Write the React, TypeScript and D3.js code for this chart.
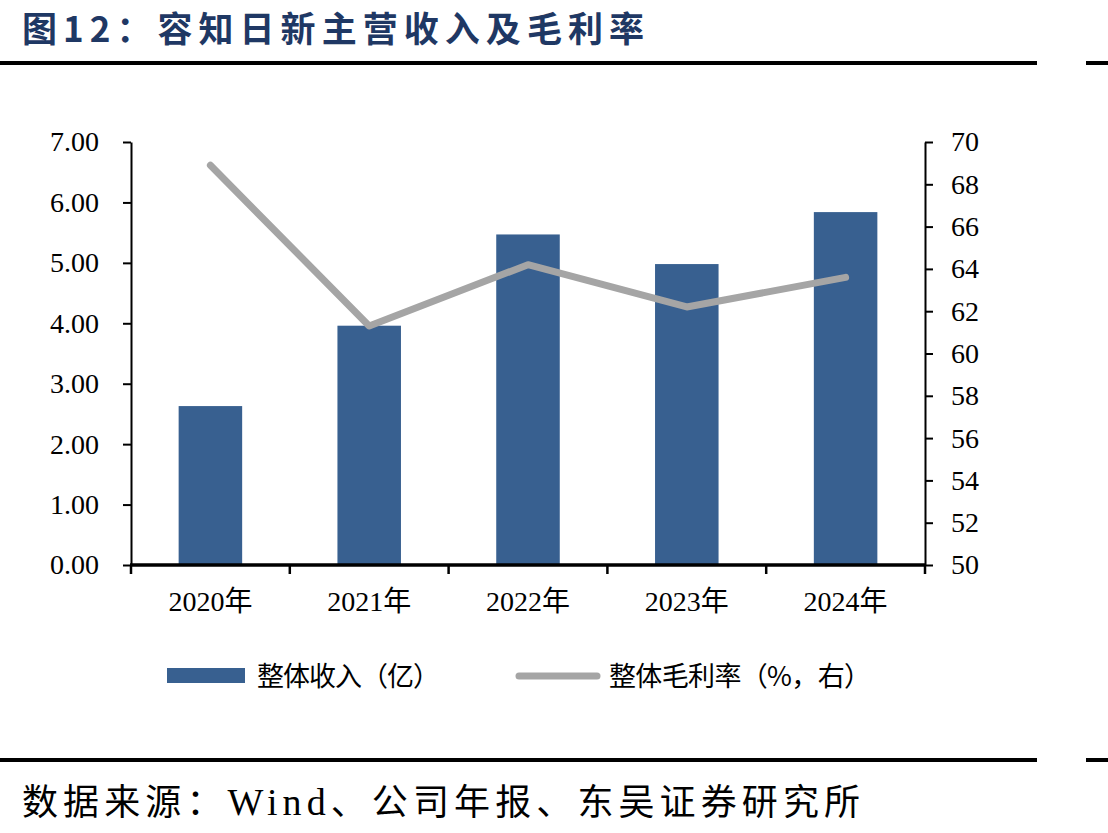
import React, { useEffect, useRef } from 'react';
import * as d3 from 'd3';

const years = ['2020年', '2021年', '2022年', '2023年', '2024年'];
const revenue = [2.63, 3.96, 5.47, 4.98, 5.84];
const grossMargin = [68.9, 61.3, 64.2, 62.2, 63.6];
const leftTicks = [0, 1, 2, 3, 4, 5, 6, 7];
const rightTicks = [50, 52, 54, 56, 58, 60, 62, 64, 66, 68, 70];

const W = 1108;
const H = 833;
const serif = "'Liberation Serif', 'Times New Roman', 'Noto Sans CJK SC', serif";
const cjk = "'Noto Sans CJK SC', 'Liberation Serif', serif";

export default function App() {
  const ref = useRef<SVGSVGElement>(null);

  useEffect(() => {
    if (!ref.current) return;
    const svg = d3.select(ref.current);
    svg.selectAll('*').remove();

    const left = 131;
    const right = 925;
    const top = 142;
    const bottom = 565;

    // header / footer rules
    svg.append('text')
      .attr('x', 22).attr('y', 42)
      .attr('fill', '#1f3864')
      .attr('font-family', cjk)
      .attr('font-weight', 'bold')
      .attr('font-size', 35)
      .attr('textLength', 622)
      .attr('lengthAdjust', 'spacing')
      .text('图12：容知日新主营收入及毛利率');

    [63, 760].forEach(y => {
      svg.append('rect').attr('x', 0).attr('y', y - 2).attr('width', 1037).attr('height', 4).attr('fill', '#000');
      svg.append('rect').attr('x', 1086).attr('y', y - 2).attr('width', 22).attr('height', 4).attr('fill', '#000');
    });

    const src = svg.append('text')
      .attr('x', 22).attr('y', 815)
      .attr('fill', '#000')
      .attr('font-family', cjk)
      .attr('font-size', 36);
    src.append('tspan').text('数据来源：');
    src.append('tspan').attr('font-family', serif).attr('font-size', 38).text('Wind');
    src.append('tspan').text('、公司年报、东吴证券研究所');
    src.attr('textLength', 838).attr('lengthAdjust', 'spacing');

    // scales
    const x = d3.scaleBand().domain(years).range([left, right]).paddingInner(0.6).paddingOuter(0.3);
    const yL = d3.scaleLinear().domain([0, 7]).range([bottom, top]);
    const yR = d3.scaleLinear().domain([50, 70]).range([bottom, top]);

    // bars
    svg.append('g').selectAll('rect')
      .data(revenue)
      .enter().append('rect')
      .attr('x', (_, i) => x(years[i]) || 0)
      .attr('y', d => yL(d))
      .attr('width', x.bandwidth())
      .attr('height', d => bottom - yL(d))
      .attr('fill', '#386090');

    // line
    const line = d3.line<number>()
      .x((_, i) => (x(years[i]) || 0) + x.bandwidth() / 2)
      .y(d => yR(d));
    svg.append('path')
      .datum(grossMargin)
      .attr('d', line)
      .attr('fill', 'none')
      .attr('stroke', '#a5a5a5')
      .attr('stroke-width', 7)
      .attr('stroke-linecap', 'round')
      .attr('stroke-linejoin', 'round');

    // left axis
    const gl = svg.append('g')
      .attr('transform', `translate(${left},0)`)
      .call(d3.axisLeft(yL).tickValues(leftTicks).tickFormat(d3.format('.2f')).tickSize(8).tickSizeOuter(0).tickPadding(24));
    gl.selectAll('path,line').attr('stroke', '#000').attr('stroke-width', 2);
    gl.selectAll('text').attr('font-family', serif).attr('font-size', 28).attr('fill', '#000');

    // right axis
    const gr = svg.append('g')
      .attr('transform', `translate(${right},0)`)
      .call(d3.axisRight(yR).tickValues(rightTicks).tickSize(8).tickSizeOuter(0).tickPadding(18));
    gr.selectAll('path,line').attr('stroke', '#000').attr('stroke-width', 2);
    gr.selectAll('text').attr('font-family', serif).attr('font-size', 28).attr('fill', '#000');

    // bottom axis: labels at band centres, ticks at band boundaries
    const gb = svg.append('g')
      .attr('transform', `translate(0,${bottom})`)
      .call(d3.axisBottom(x).tickSize(0).tickPadding(26));
    gb.select('.domain').remove();
    gb.selectAll('text').attr('font-family', serif).attr('font-size', 28).attr('fill', '#000');

    const boundaries = years.map(c => (x(c) || 0) - x.step() * x.paddingOuter()).concat([right]);
    svg.append('g').selectAll('line')
      .data(boundaries)
      .enter().append('line')
      .attr('x1', d => d).attr('x2', d => d)
      .attr('y1', bottom).attr('y2', bottom + 9)
      .attr('stroke', '#000').attr('stroke-width', 2.5);
    svg.append('line')
      .attr('x1', left - 1).attr('x2', right + 1)
      .attr('y1', bottom).attr('y2', bottom)
      .attr('stroke', '#000').attr('stroke-width', 3.5);

    // legend
    const lg = svg.append('g');
    lg.append('rect').attr('x', 167).attr('y', 668).attr('width', 78).attr('height', 15).attr('fill', '#386090');
    lg.append('text').attr('x', 257).attr('y', 686)
      .attr('font-family', cjk).attr('font-size', 27).attr('fill', '#000')
      .attr('textLength', 183).attr('lengthAdjust', 'spacing')
      .text('整体收入（亿）');
    lg.append('line').attr('x1', 519).attr('x2', 597).attr('y1', 676).attr('y2', 676)
      .attr('stroke', '#a5a5a5').attr('stroke-width', 7).attr('stroke-linecap', 'round');
    lg.append('text').attr('x', 609).attr('y', 686)
      .attr('font-family', cjk).attr('font-size', 27).attr('fill', '#000')
      .attr('textLength', 262).attr('lengthAdjust', 'spacing')
      .text('整体毛利率（%，右）');
  }, []);

  return (
    <div style={{ position: 'absolute', left: 0, top: 0, background: '#fff' }}>
      <svg ref={ref} width={W} height={H} style={{ display: 'block' }} />
    </div>
  );
}
